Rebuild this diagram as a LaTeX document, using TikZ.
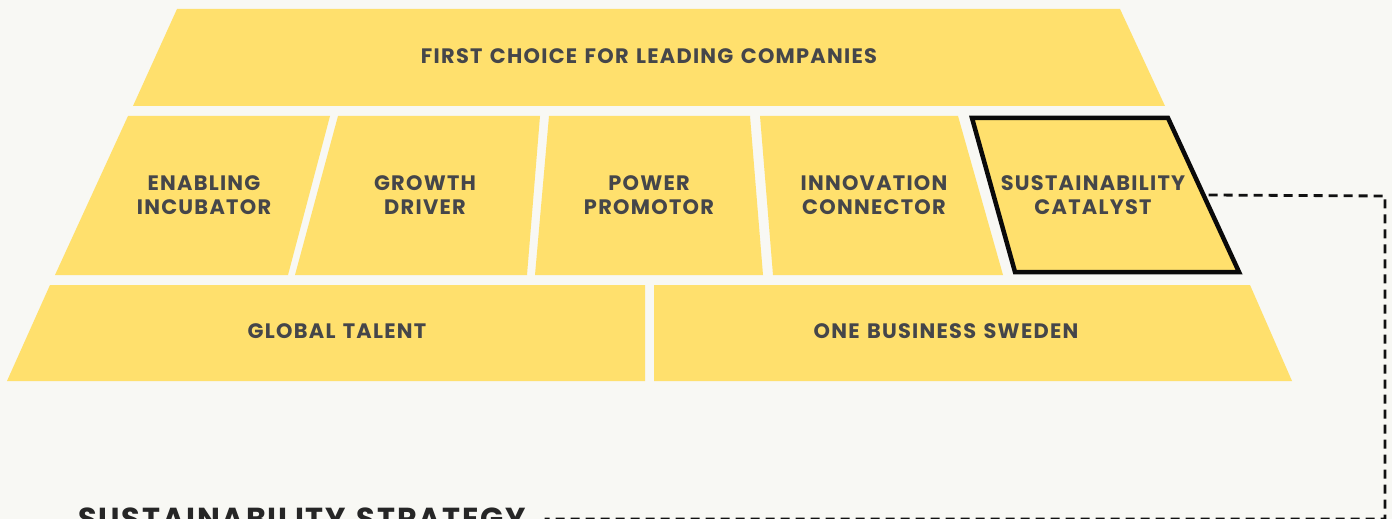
\documentclass[tikz,border=0pt]{standalone}
\usepackage{fontspec}
\setmainfont{Poppins}[LetterSpace=6, WordSpace=1.3]
\usetikzlibrary{calc}
\definecolor{bgColor}{HTML}{F8F8F4}
\definecolor{blockColor}{HTML}{FFE06D}
\definecolor{blockLineColor}{HTML}{0A0A0A}
\definecolor{labelTextColor}{HTML}{45464A}
\definecolor{headTextColor}{HTML}{262626}
\definecolor{linkColor}{HTML}{111111}
\def\textTop{FIRST CHOICE FOR LEADING COMPANIES}
\def\textA{ENABLING\\INCUBATOR}
\def\textB{GROWTH\\DRIVER}
\def\textC{POWER\\PROMOTOR}
\def\textD{INNOVATION\\CONNECTOR}
\def\textE{SUSTAINABILITY\\CATALYST}
\def\textF{GLOBAL TALENT}
\def\textG{ONE BUSINESS SWEDEN}
\def\textH{SUSTAINABILITY STRATEGY}

\begin{document}
\begin{tikzpicture}[x=1bp,y=-1bp,
  blocklabel/.style={align=center, text=labelTextColor, inner sep=0pt,
    font=\bfseries\fontsize{21}{24}\selectfont},
  dashlink/.style={color=linkColor, line width=2.8bp, dash pattern=on 9bp off 6bp}]

\clip (0, 0) rectangle (1392, 519);
\fill[bgColor] (0, 0) rectangle (1392, 519);

% top block
\begin{scope}
\fill[blockColor] (177, 9) -- (1120, 9) -- (1165, 106) -- (133, 106) -- cycle;
\node[blocklabel] (firstChoice) at (649, 56) {\textTop};
\end{scope}

% middle row
\begin{scope}
\fill[blockColor] (128, 116) -- (330, 116) -- (288, 275) -- (55, 275) -- cycle;
\fill[blockColor] (338, 116) -- (540, 116) -- (527, 275) -- (295, 275) -- cycle;
\fill[blockColor] (549, 116) -- (750, 116) -- (763, 275) -- (535, 275) -- cycle;
\fill[blockColor] (760, 116) -- (958, 116) -- (1003, 275) -- (773, 275) -- cycle;
\coordinate (scTL) at (972, 118);
\coordinate (scTR) at (1168, 118);
\coordinate (scBR) at (1239, 272);
\coordinate (scBL) at (1015, 272);
\filldraw[fill=blockColor, draw=blockLineColor, line width=4.5bp]
(scTL) -- (scTR) -- (scBR) -- (scBL) -- cycle;
\node[blocklabel] (incubator) at (204, 195) {\textA};
\node[blocklabel] (growth) at (425, 195) {\textB};
\node[blocklabel] (power) at (649, 195) {\textC};
\node[blocklabel] (innovation) at (874, 195) {\textD};
\node[blocklabel] (catalyst) at (1093, 195) {\textE};
\end{scope}

% bottom row
\begin{scope}
\fill[blockColor] (50, 285) -- (645, 285) -- (645, 381) -- (7, 381) -- cycle;
\fill[blockColor] (654, 285) -- (1250, 285) -- (1292, 381) -- (654, 381) -- cycle;
\node[blocklabel] (talent) at (337, 331) {\textF};
\node[blocklabel] (sweden) at (946, 331) {\textG};
\end{scope}

% strategy label and link
\begin{scope}
\node[anchor=north west, inner sep=0pt, text=headTextColor,
font=\bfseries\fontsize{30.5}{32}\selectfont] (strategy) at (78, 508) {\textH};
\coordinate (scEdge) at ($(scTR)!0.5!(scBR)$);
\coordinate (linkTurn) at (1385, 196);
\draw[dashlink] ([xshift=5bp]scEdge) -- (linkTurn) |- ([xshift=18bp]strategy.east);
\end{scope}

\end{tikzpicture}
\end{document}
